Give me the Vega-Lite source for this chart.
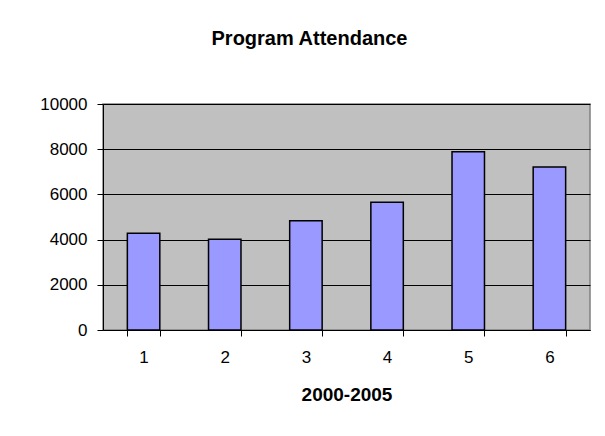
{
  "$schema": "https://vega.github.io/schema/vega-lite/v6.json",
  "width": 487,
  "height": 226,
  "autosize": "none",
  "padding": {"left": 103, "top": 104, "right": 15, "bottom": 106},
  "background": "white",
  "title": {
    "text": "Program Attendance",
    "font": "Liberation Sans",
    "fontSize": 20,
    "fontWeight": "bold",
    "color": "black",
    "anchor": "middle",
    "dx": -37,
    "offset": 46
  },
  "data": {
    "values": [
      {"year": "1", "attendance": 4280},
      {"year": "2", "attendance": 4010},
      {"year": "3", "attendance": 4830},
      {"year": "4", "attendance": 5650},
      {"year": "5", "attendance": 7890},
      {"year": "6", "attendance": 7210}
    ]
  },
  "mark": {"type": "bar", "color": "#9999FF", "stroke": "black", "strokeWidth": 1.5},
  "encoding": {
    "x": {
      "field": "year",
      "type": "ordinal",
      "title": "2000-2005",
      "scale": {"paddingInner": 0.6, "paddingOuter": 0.3},
      "axis": {
        "labelAngle": 0,
        "tickBand": "extent",
        "tickSize": 6,
        "tickColor": "black",
        "domainColor": "black",
        "labelFont": "Liberation Sans",
        "labelFontSize": 17,
        "labelColor": "black",
        "labelPadding": 13,
        "titleFont": "Liberation Sans",
        "titleFontSize": 19,
        "titleFontWeight": "bold",
        "titleColor": "black",
        "titlePadding": 20
      }
    },
    "y": {
      "field": "attendance",
      "type": "quantitative",
      "title": null,
      "scale": {"domain": [0, 10000]},
      "axis": {
        "values": [0, 2000, 4000, 6000, 8000, 10000],
        "format": "d",
        "grid": true,
        "gridColor": "black",
        "gridWidth": 1,
        "tickSize": 6,
        "tickColor": "black",
        "domainColor": "black",
        "labelFont": "Liberation Sans",
        "labelFontSize": 17,
        "labelColor": "black",
        "labelPadding": 10
      }
    }
  },
  "config": {
    "view": {"fill": "#C0C0C0", "stroke": "#808080", "strokeWidth": 1.5}
  }
}
